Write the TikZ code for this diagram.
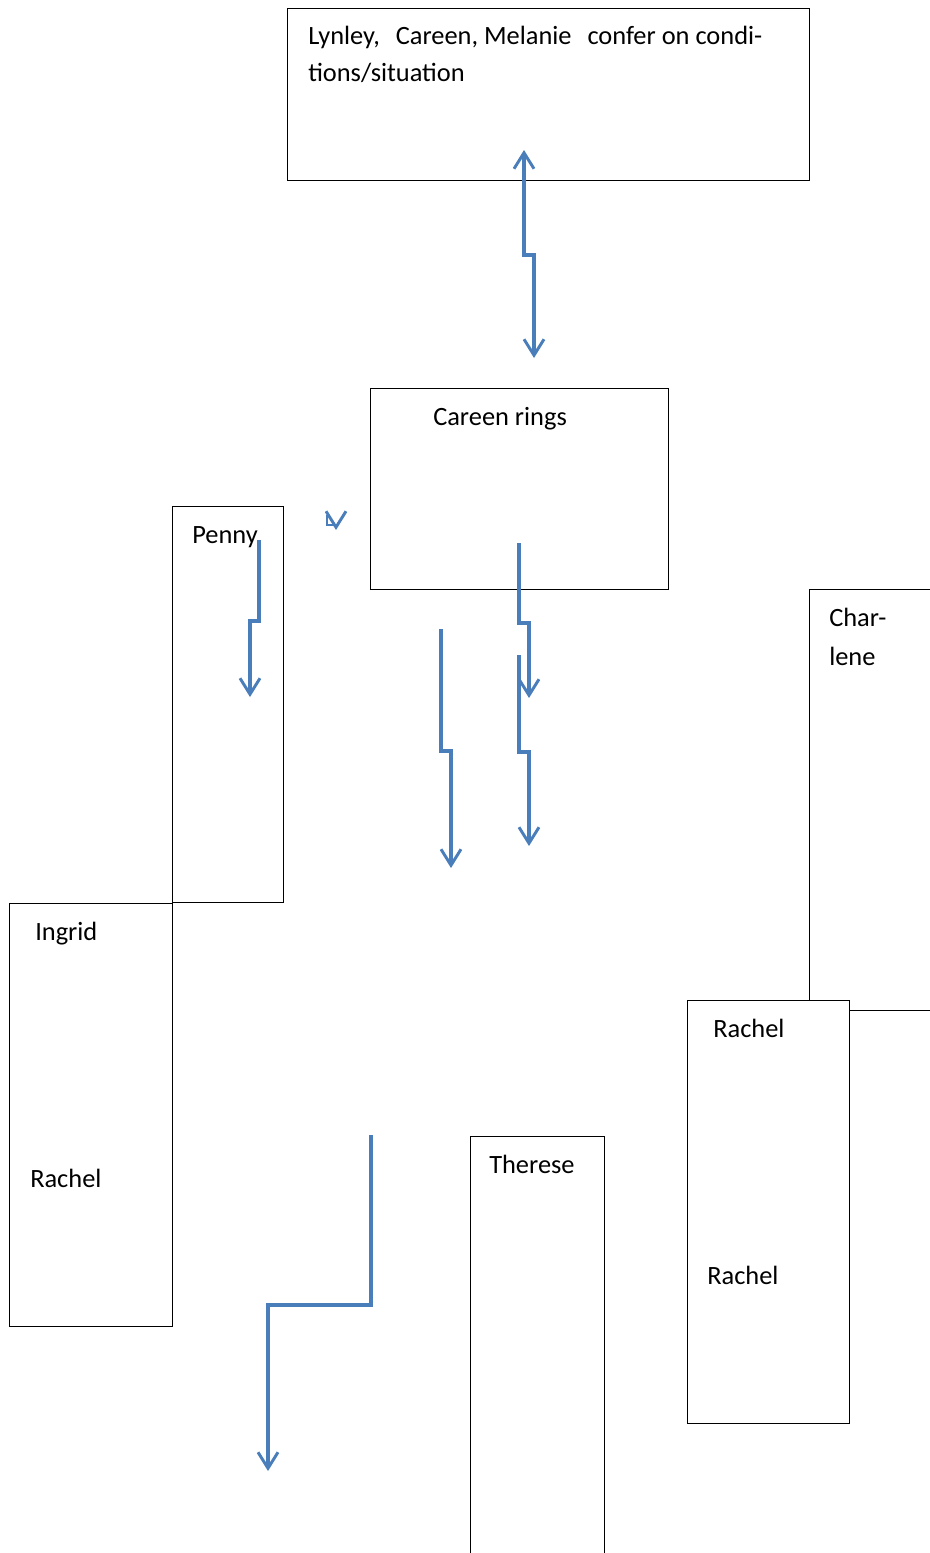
\documentclass[tikz,border=0pt]{standalone}
\usepackage{fontspec}
\setmainfont{Carlito}
\usepackage{xcolor}
\usepackage{tikz}
\usetikzlibrary{arrows.meta, positioning, calc}

\definecolor{wordblue}{RGB}{74,126,187}

\begin{document}
\begin{tikzpicture}[
  x=0.75pt, y=-0.75pt,
  card/.style={rectangle, draw=black, fill=white, line width=0.8pt, inner sep=0pt, anchor=north west},
  lbl/.style={anchor=base west, inner sep=0pt, font=\fontsize{19.8pt}{27pt}\selectfont},
  flow/.style={draw=wordblue, line width=2.4pt, -{Straight Barb[length=12pt, width=15pt, line width=2.2pt]}},
  flow2/.style={flow, {Straight Barb[length=12pt, width=15pt, line width=2.2pt]}-{Straight Barb[length=12pt, width=15pt, line width=2.2pt]}}
]
\useasboundingbox (0,0) rectangle (930,1553);
\clip (0,0) rectangle (930,1553);

% boxes
\node[card, minimum width=391.5pt, minimum height=129pt] (confer) at (287,8) {};
\node[card, minimum width=223.5pt, minimum height=150.75pt] (rings) at (370,388) {};
\node[card, minimum width=83.25pt, minimum height=297pt] (penny) at (172,506) {};
\node[card, minimum width=122.25pt, minimum height=317.25pt] (ingrid) at (9,903) {};
\node[card, minimum width=113.25pt, minimum height=315.75pt] (charlene) at (809,589) {};
\node[card, minimum width=121.5pt, minimum height=317.25pt] (rachelR) at (687,1000) {};
\node[card, minimum width=100.5pt, minimum height=333pt] (therese) at (470,1136) {};

% texts
\node[lbl] (conferA) at (308,44) {Lynley,\ \ \kern3pt Careen, Melanie\ \ \kern3pt confer on condi-};
\node[lbl] (conferB) at (308,81) {tions/situation};
\node[lbl] (ringsT) at (433,425) {Careen rings};
\node[lbl] (pennyT) at (192,543) {Penny};
\node[lbl] (ingridT) at (35,940) {Ingrid};
\node[lbl] (rachelL) at (30,1187) {Rachel};
\node[lbl] (charA) at (829,626) {Char-};
\node[lbl] (charB) at (829,665) {lene};
\node[lbl] (rachelRa) at (713,1037) {Rachel};
\node[lbl] (rachelRb) at (707,1284) {Rachel};
\node[lbl] (thereseT) at (489,1173) {Therese};

% arrow ends
\coordinate (c1s) at (524,150);  \coordinate (c1e) at (534,358);
\coordinate (c2s) at (259,540);  \coordinate (c2e) at (250,697);
\coordinate (c3s) at (519,543);  \coordinate (c3e) at (529,698);
\coordinate (c4s) at (441,629);  \coordinate (c4e) at (451,868);
\coordinate (c5s) at (519,655);  \coordinate (c5e) at (529,846);
\coordinate (c6s) at (371,1135); \coordinate (c6e) at (268,1471);
\coordinate (c7s) at (327,515);  \coordinate (c7e) at (336,530);

% arrows
\draw[flow2] (c1s) -- ++(0,105) -| (c1e);
\draw[flow] (c2s) -- ++(0,81) -| (c2e);
\draw[flow] (c3s) -- ++(0,80) -| (c3e);
\draw[flow] (c4s) -- ++(0,122) -| (c4e);
\draw[flow] (c5s) -- ++(0,97) -| (c5e);
\draw[flow] (c6s) -- ++(0,170) -| (c6e);
\draw[flow, line width=1.6pt] (c7s) -- ++(0,10) -| (c7e);
\end{tikzpicture}
\end{document}
